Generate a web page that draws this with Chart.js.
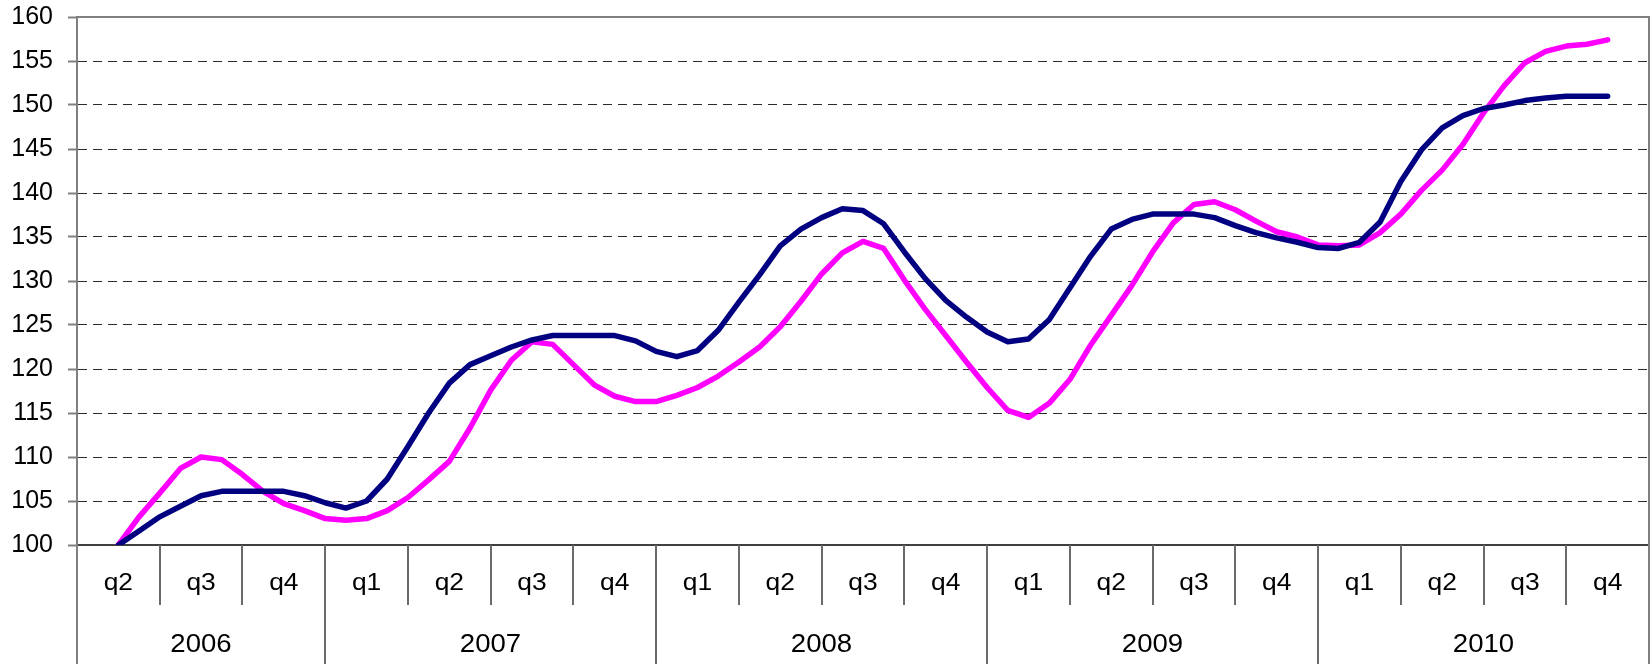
<!DOCTYPE html>
<html>
<head>
<meta charset="utf-8">
<script src="https://cdn.jsdelivr.net/npm/chart.js@4/dist/chart.umd.min.js"></script>
<style>
  html, body { margin: 0; padding: 0; background: #fff; }
  #wrap { width: 1650px; height: 664px; }
</style>
</head>
<body>
<div id="wrap"><canvas id="indexChart" width="1650" height="664"></canvas></div>
<script>
// quarter labels, grouped by year (2006 starts at q2)
const quarterLabels = ['q2', 'q3', 'q4',
  'q1', 'q2', 'q3', 'q4',
  'q1', 'q2', 'q3', 'q4',
  'q1', 'q2', 'q3', 'q4',
  'q1', 'q2', 'q3', 'q4'];
const yearLabels = ['2006', '2007', '2008', '2009', '2010'];
const quartersPerYear = [3, 4, 4, 4, 4];

// four readings per quarter, from q2 2006 to q4 2010
const pointsPerQuarter = 4;
const navySeries = [
  100.0, 101.6, 103.2, 104.4, 105.6, 106.1, 106.1, 106.1, 106.1, 105.6,
  104.8, 104.2, 105.0, 107.5, 111.2, 115.0, 118.4, 120.5, 121.5, 122.5,
  123.3, 123.8, 123.8, 123.8, 123.8, 123.2, 122.0, 121.4, 122.1, 124.4,
  127.6, 130.7, 134.0, 135.9, 137.2, 138.2, 138.0, 136.5, 133.3, 130.3,
  127.8, 125.9, 124.2, 123.1, 123.4, 125.6, 129.2, 132.8, 135.9, 137.0,
  137.6, 137.6, 137.6, 137.2, 136.3, 135.5, 134.9, 134.4, 133.8, 133.7,
  134.4, 136.7, 141.3, 144.9, 147.4, 148.8, 149.6, 150.0, 150.5, 150.8,
  151.0, 151.0, 151.0
];
const magentaSeries = [
  100.0, 103.2, 105.9, 108.7, 110.0, 109.7, 108.0, 106.1, 104.7, 103.9,
  103.0, 102.8, 103.0, 103.9, 105.4, 107.4, 109.5, 113.3, 117.6, 121.0,
  123.1, 122.8, 120.5, 118.2, 116.9, 116.3, 116.3, 117.0, 117.9, 119.2,
  120.8, 122.5, 124.8, 127.7, 130.8, 133.2, 134.5, 133.7, 130.1, 126.8,
  123.8, 120.8, 117.9, 115.3, 114.5, 116.1, 118.8, 122.7, 126.1, 129.5,
  133.3, 136.6, 138.7, 139.0, 138.1, 136.8, 135.6, 135.0, 134.1, 134.0,
  134.1, 135.5, 137.6, 140.3, 142.6, 145.5, 149.1, 152.2, 154.8, 156.1,
  156.7, 156.9, 157.4
];

const yTicks = { min: 100, max: 160, step: 5 };

const FONT = "'Liberation Sans', Arial, sans-serif";
const half = pointsPerQuarter / 2;

function toPoints(values) {
  return values.map((v, i) => ({ x: i, y: v }));
}

// draws the boxed two-level category axis and the top/right frame
const categoryTable = {
  id: 'categoryTable',
  afterDraw(chart) {
    const { ctx, chartArea, scales: { x } } = chart;
    const base = chartArea.bottom;
    const qBottom = base + 60;
    const bottom = chart.height;
    const edge = i => Math.round(x.getPixelForValue(i * pointsPerQuarter - half));

    ctx.save();
    ctx.lineWidth = 2;
    ctx.strokeStyle = '#808080';
    ctx.beginPath();
    ctx.moveTo(chartArea.left, chartArea.top);
    ctx.lineTo(chartArea.right, chartArea.top);
    ctx.lineTo(chartArea.right, bottom);
    ctx.moveTo(chartArea.left, base);
    ctx.lineTo(chartArea.left, bottom);
    ctx.stroke();

    // quarter separators and year separators
    const yearStarts = [0];
    quartersPerYear.forEach(n => yearStarts.push(yearStarts[yearStarts.length - 1] + n));
    ctx.strokeStyle = '#6a6a6a';
    ctx.beginPath();
    for (let i = 1; i < quarterLabels.length; i++) {
      const px = edge(i);
      ctx.moveTo(px, base);
      ctx.lineTo(px, yearStarts.includes(i) ? bottom : qBottom);
    }
    ctx.stroke();

    ctx.fillStyle = '#000';
    ctx.textAlign = 'center';
    ctx.textBaseline = 'alphabetic';
    ctx.font = '24px ' + FONT;
    quarterLabels.forEach((lab, i) => {
      const cx = x.getPixelForValue(i * pointsPerQuarter);
      ctx.save();
      ctx.translate(cx, base + 45);
      ctx.scale(1.1, 1);
      ctx.fillText(lab, 0, 0);
      ctx.restore();
    });

    ctx.font = '26px ' + FONT;
    yearLabels.forEach((lab, j) => {
      const cx = (edge(yearStarts[j]) + edge(yearStarts[j + 1])) / 2;
      ctx.save();
      ctx.translate(cx, base + 107);
      ctx.scale(1.06, 1);
      ctx.fillText(lab, 0, 0);
      ctx.restore();
    });
    ctx.restore();
  }
};

const ctx = document.getElementById('indexChart').getContext('2d');
new Chart(ctx, {
  type: 'line',
  data: {
    datasets: [
      {
        label: 'navy',
        data: toPoints(navySeries),
        borderColor: '#000080',
        borderWidth: 5.5,
        pointRadius: 0,
        tension: 0,
        borderJoinStyle: 'round',
        borderCapStyle: 'round',
        fill: false
      },
      {
        label: 'magenta',
        data: toPoints(magentaSeries),
        borderColor: '#ff00ff',
        borderWidth: 5.5,
        pointRadius: 0,
        tension: 0,
        borderJoinStyle: 'round',
        borderCapStyle: 'round',
        fill: false
      }
    ]
  },
  options: {
    responsive: false,
    animation: false,
    layout: { padding: { top: 17, right: 1, left: 0, bottom: 0 } },
    plugins: {
      legend: { display: false },
      tooltip: { enabled: false },
      title: { display: false }
    },
    scales: {
      x: {
        type: 'linear',
        min: -half,
        max: (quarterLabels.length - 1) * pointsPerQuarter + half,
        ticks: { display: false },
        grid: { display: false },
        border: { display: true, color: '#404040', width: 2 },
        afterFit(scale) { scale.height = 119; scale.paddingLeft = 0; scale.paddingRight = 0; }
      },
      y: {
        min: yTicks.min,
        max: yTicks.max,
        ticks: {
          stepSize: yTicks.step,
          color: '#000',
          padding: 15,
          font: { family: FONT, size: 25 }
        },
        grid: {
          color: c => (c.tick && c.tick.value === yTicks.max) ? 'rgba(0,0,0,0)' : '#2a2a2a',
          lineWidth: 1,
          tickLength: 9,
          tickColor: '#808080',
          tickWidth: 2
        },
        border: { display: true, color: '#808080', width: 2, dash: [9, 6] },
        afterFit(scale) { scale.width = 77; scale.paddingTop = 0; scale.paddingBottom = 0; }
      }
    }
  },
  plugins: [categoryTable]
});
</script>
</body>
</html>
